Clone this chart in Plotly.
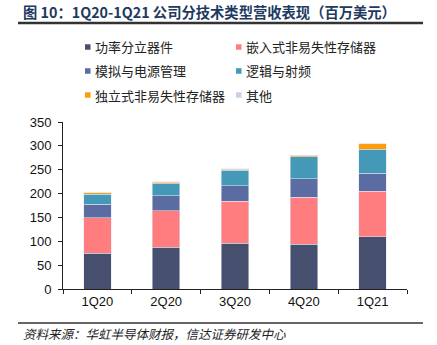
import plotly.graph_objects as go

# Quarterly revenue by technology type (USD millions)
quarters = ["1Q20", "2Q20", "3Q20", "4Q20", "1Q21"]
power_discrete = [75, 87, 96, 94, 110]
embedded_nvm = [74, 77, 88, 98, 95]
analog_pm = [29, 31, 32, 39, 38]
logic_rf = [21, 26, 33, 46, 50]
standalone_nvm = [2.5, 3, 2.5, 3, 11]
others = [0.6, 0.6, 0.6, 0.6, 0.8]

series_names = ["功率分立器件", "嵌入式非易失性存储器", "模拟与电源管理",
                "逻辑与射频", "独立式非易失性存储器", "其他"]
series_values = [power_discrete, embedded_nvm, analog_pm, logic_rf,
                 standalone_nvm, others]
series_colors = ["#464F6E", "#FF7C7F", "#5B6CA2", "#4399B7", "#FF9C0A", "#C9D2E3"]

title_text = "图 10：1Q20-1Q21 公司分技术类型营收表现（百万美元）"
source_text = "资料来源：华虹半导体财报，信达证券研发中心"

fig = go.Figure()
for name, vals, col in zip(series_names, series_values, series_colors):
    fig.add_trace(go.Bar(
        x=quarters, y=vals, name=name, showlegend=False,
        marker=dict(color=col, line=dict(color="rgba(225,230,240,0.9)", width=0.6)),
        width=0.4,
    ))

W, H = 437, 345
ml, mr, mt, mb = 63, 30, 122, 56
PW = W - ml - mr
PH = H - mt - mb

fig.update_layout(
    width=W, height=H,
    barmode="stack",
    margin=dict(l=ml, r=mr, t=mt, b=mb),
    paper_bgcolor="white", plot_bgcolor="white",
    font=dict(family="Liberation Sans, Arial, sans-serif", size=13, color="#111"),
    xaxis=dict(
        showline=True, linecolor="#222", linewidth=1,
        ticks="outside", ticklen=4, tickcolor="#222", tickson="boundaries",
        showgrid=False, tickfont=dict(size=13, color="#111"),
    ),
    yaxis=dict(
        range=[0, 350], dtick=50, showline=True, linecolor="#222", linewidth=1,
        ticks="outside", ticklen=4, tickcolor="#222", showgrid=False,
        zeroline=False, tickfont=dict(size=13, color="#111"),
        ticklabelstandoff=4,
    ),
)

# Convert page pixels to paper (plot-area relative) coordinates
def px_x(p):
    return (p - ml) / PW

def px_y(p):
    return (H - mb - p) / PH

shapes = []
annotations = []

# Title and rules
annotations.append(dict(
    xref="paper", yref="paper", x=px_x(21), y=px_y(12), xanchor="left", yanchor="middle",
    text="<b>" + title_text + "</b>", showarrow=False,
    font=dict(family="Noto Sans CJK SC", size=14.3, color="#1E3A5F"),
))
shapes.append(dict(type="line", xref="paper", yref="paper",
                   x0=px_x(18), x1=px_x(423), y0=px_y(23), y1=px_y(23),
                   line=dict(color="#333", width=2.5)))
shapes.append(dict(type="line", xref="paper", yref="paper",
                   x0=px_x(18), x1=px_x(423), y0=px_y(323), y1=px_y(323),
                   line=dict(color="#333", width=1.5)))
annotations.append(dict(
    xref="paper", yref="paper", x=px_x(21), y=px_y(333), xanchor="left", yanchor="middle",
    text=source_text, showarrow=False,
    font=dict(family="Noto Sans CJK SC", size=12.5, color="#222", style="italic"),
))

# Legend: two columns, three rows
col_x = [85, 236]
row_y = [47, 71, 95]
for i, (name, col) in enumerate(zip(series_names, series_colors)):
    cx = col_x[i % 2]
    cy = row_y[i // 2]
    shapes.append(dict(type="rect", xref="paper", yref="paper",
                       x0=px_x(cx), x1=px_x(cx + 5.5), y0=px_y(cy - 2.75), y1=px_y(cy + 2.75),
                       fillcolor=col, line=dict(width=0)))
    annotations.append(dict(
        xref="paper", yref="paper", x=px_x(cx + 7.5), y=px_y(cy), xanchor="left", yanchor="middle",
        text=name, showarrow=False,
        font=dict(family="Noto Sans CJK SC", size=13, color="#222"),
    ))

fig.update_layout(shapes=shapes, annotations=annotations)
fig.write_html("out.html")
